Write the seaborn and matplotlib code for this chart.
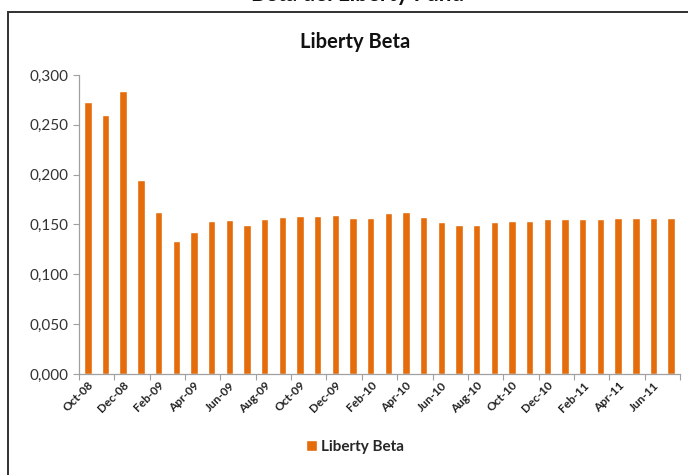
import numpy as np
import pandas as pd
import matplotlib
matplotlib.use('Agg')
import matplotlib.pyplot as plt
import seaborn as sns
from matplotlib.patches import Rectangle
from matplotlib.ticker import FuncFormatter, FixedLocator

# monthly beta values, Oct-08 .. Jul-11
months = ['Oct-08', 'Nov-08', 'Dec-08', 'Jan-09', 'Feb-09', 'Mar-09', 'Apr-09', 'May-09',
          'Jun-09', 'Jul-09', 'Aug-09', 'Sep-09', 'Oct-09', 'Nov-09', 'Dec-09', 'Jan-10',
          'Feb-10', 'Mar-10', 'Apr-10', 'May-10', 'Jun-10', 'Jul-10', 'Aug-10', 'Sep-10',
          'Oct-10', 'Nov-10', 'Dec-10', 'Jan-11', 'Feb-11', 'Mar-11', 'Apr-11', 'May-11',
          'Jun-11', 'Jul-11']
beta = [0.273, 0.260, 0.284, 0.195, 0.163, 0.133, 0.142, 0.154,
        0.155, 0.150, 0.156, 0.158, 0.159, 0.159, 0.160, 0.157,
        0.157, 0.162, 0.163, 0.158, 0.153, 0.149, 0.150, 0.153,
        0.154, 0.154, 0.156, 0.156, 0.156, 0.156, 0.157, 0.157,
        0.157, 0.157]
series_name = 'Liberty Beta'

sns.set_theme(style='white')
plt.rcParams['font.family'] = ['Lato', 'DejaVu Sans']

df = pd.DataFrame({'month': months, 'beta': beta})

fig = plt.figure(figsize=(6.88, 4.75), dpi=100)
ax = fig.add_axes([79 / 688, 101 / 475, 601 / 688, 299 / 475])

sns.barplot(data=df, x='month', y='beta', color='#E46C0A', width=0.42,
            saturation=1, label=series_name, ax=ax)

ax.set_xlim(-0.5, len(months) - 0.5)
ax.set_ylim(0, 0.3)
ax.set_yticks(np.arange(0, 0.301, 0.05))
ax.yaxis.set_major_formatter(FuncFormatter(lambda v, p: f'{v:.3f}'.replace('.', ',')))
ax.tick_params(axis='y', labelsize=11, colors='#333333', length=4, width=0.8,
               left=True, color='#a0a0a0')

# labels every 2nd month, tick marks between categories
ax.set_xticks(range(0, len(months), 2))
ax.set_xticklabels(months[::2], rotation=45, ha='right', rotation_mode='anchor',
                   fontsize=8.5, fontweight='bold', color='#222222')
ax.xaxis.set_minor_locator(FixedLocator(np.arange(-0.5, len(months), 2)))
ax.tick_params(axis='x', which='major', length=0, pad=4)
ax.tick_params(axis='x', which='minor', length=4, width=0.8, color='#a0a0a0',
               bottom=True)

ax.set_xlabel('')
ax.set_ylabel('')
for side in ['top', 'right']:
    ax.spines[side].set_visible(False)
for side in ['left', 'bottom']:
    ax.spines[side].set_color('#a0a0a0')
    ax.spines[side].set_linewidth(0.9)

ax.legend(loc='center', bbox_to_anchor=(0.516, 28 / 475),
          bbox_transform=fig.transFigure, frameon=False,
          prop={'size': 11, 'weight': 'bold'}, handlelength=0.7, handleheight=0.7,
          handletextpad=0.3)

fig.text(0.516, 0.912, 'Liberty Beta', ha='center', va='center',
         fontsize=14.5, fontweight='bold', color='#111111')
# outer title, mostly cut off at top edge as in the source image
fig.text(0.52, 1.012, 'Beta del Liberty Fund', ha='center', va='center',
         fontsize=16, fontweight='bold', color='#111111')

fig.patches.append(Rectangle((8 / 688, -0.05), 1.1, 0.05 + 463 / 475,
                             transform=fig.transFigure, fill=False,
                             edgecolor='#303030', linewidth=1.4))

fig.savefig('out.png', dpi=100)
